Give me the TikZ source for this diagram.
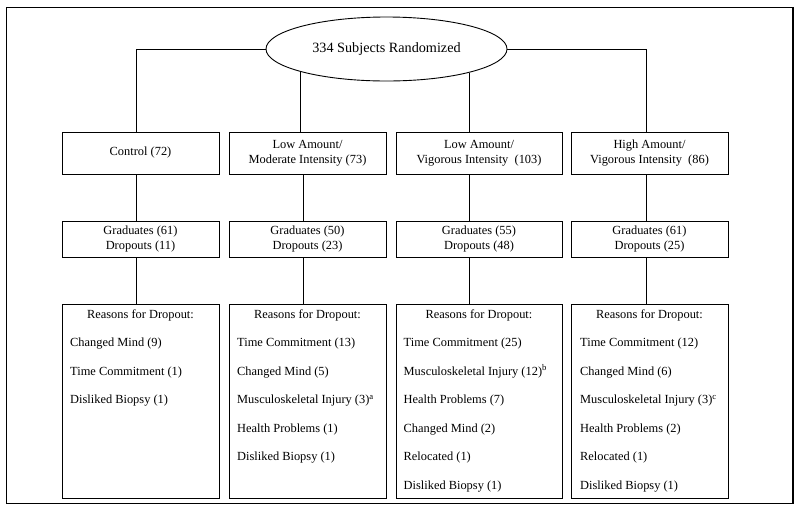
\documentclass[tikz,border=0pt]{standalone}
\usepackage{fontspec}
\setmainfont{Liberation Serif}
\usetikzlibrary{shapes.geometric}
\begin{document}
\begin{tikzpicture}[x=1pt,y=-1pt,
  txt/.style={font=\fontsize{12.4}{14.5}\selectfont},
  box/.style={txt, draw, line width=0.9pt, inner sep=0pt, minimum width=157pt, align=center},
  rowA/.style={box, minimum height=42pt},
  rowB/.style={box, minimum height=36pt},
  rowC/.style={box, minimum height=194pt},
  item/.style={txt, anchor=mid west, inner sep=0pt},
  head/.style={txt, anchor=mid, inner sep=0pt},
  conn/.style={line width=0.9pt}]
\useasboundingbox (0,0) rectangle (800,515);
\draw[line width=1.6pt] (6.5,7.5) rectangle (793,503.5);

% top ellipse
\node[draw, ellipse, line width=0.9pt, inner sep=0pt, minimum width=241pt, minimum height=64pt,
      font=\fontsize{14.2}{16}\selectfont] (ell) at (386.5,49) {334 Subjects Randomized};

% row 1
\node[rowA] (a1) at (140.5,153) {Control (72)};
\node[rowA] (a2) at (307.5,153) {Low Amount/\\Moderate Intensity (73)};
\node[rowA, minimum width=166pt] (a3) at (479,153) {Low Amount/\\Vigorous Intensity~~(103)};
\node[rowA] (a4) at (649.5,153) {High Amount/\\Vigorous Intensity~~(86)};

% row 2
\node[rowB] (b1) at (140.5,239) {Graduates (61)\\Dropouts (11)};
\node[rowB] (b2) at (307.5,239) {Graduates (50)\\Dropouts (23)};
\node[rowB, minimum width=166pt] (b3) at (479,239) {Graduates (55)\\Dropouts (48)};
\node[rowB] (b4) at (649.5,239) {Graduates (61)\\Dropouts (25)};

% row 3
\node[rowC] (c1) at (140.5,401) {};
\node[rowC] (c2) at (307.5,401) {};
\node[rowC, minimum width=166pt] (c3) at (479,401) {};
\node[rowC] (c4) at (649.5,401) {};

\node[head] (h1) at (140.5,316) {Reasons for Dropout:};
\node[head] (h2) at (307.5,316) {Reasons for Dropout:};
\node[head] (h3) at (479,316) {Reasons for Dropout:};
\node[head] (h4) at (649.5,316) {Reasons for Dropout:};

\foreach \t [count=\i] in {Changed Mind (9), Time Commitment (1), Disliked Biopsy (1)}
  \node[item] (p1-\i) at (70,316+28.5*\i) {\t};
\foreach \t [count=\i] in {Time Commitment (13), Changed Mind (5), Musculoskeletal Injury (3)\textsuperscript{a}, Health Problems (1), Disliked Biopsy (1)}
  \node[item] (p2-\i) at (237,316+28.5*\i) {\t};
\foreach \t [count=\i] in {Time Commitment (25), Musculoskeletal Injury (12)\textsuperscript{b}, Health Problems (7), Changed Mind (2), Relocated (1), Disliked Biopsy (1)}
  \node[item] (p3-\i) at (403.5,316+28.5*\i) {\t};
\foreach \t [count=\i] in {Time Commitment (12), Changed Mind (6), Musculoskeletal Injury (3)\textsuperscript{c}, Health Problems (2), Relocated (1), Disliked Biopsy (1)}
  \node[item] (p4-\i) at (580,316+28.5*\i) {\t};

% connectors from ellipse
\draw[conn] (ell.west) -| ([xshift=-4.5pt]a1.north);
\draw[conn] (ell.east) -| ([xshift=-3.5pt]a4.north);
\draw[conn] (ell.195.45) -- (ell.195.45 |- a2.north);
\draw[conn] (ell.344.22) -- (ell.344.22 |- a3.north);

% verticals between rows
\draw[conn] ([xshift=-4.5pt]a1.south) -- ([xshift=-4.5pt]b1.north);
\draw[conn] ([xshift=-4.5pt]a2.south) -- ([xshift=-4.5pt]b2.north);
\draw[conn] ([xshift=-10pt]a3.south) -- ([xshift=-10pt]b3.north);
\draw[conn] ([xshift=-3.5pt]a4.south) -- ([xshift=-3.5pt]b4.north);

\draw[conn] ([xshift=-4.5pt]b1.south) -- ([xshift=-4.5pt]c1.north);
\draw[conn] ([xshift=-4.5pt]b2.south) -- ([xshift=-4.5pt]c2.north);
\draw[conn] ([xshift=-10pt]b3.south) -- ([xshift=-10pt]c3.north);
\draw[conn] ([xshift=-3.5pt]b4.south) -- ([xshift=-3.5pt]c4.north);
\end{tikzpicture}
\end{document}
